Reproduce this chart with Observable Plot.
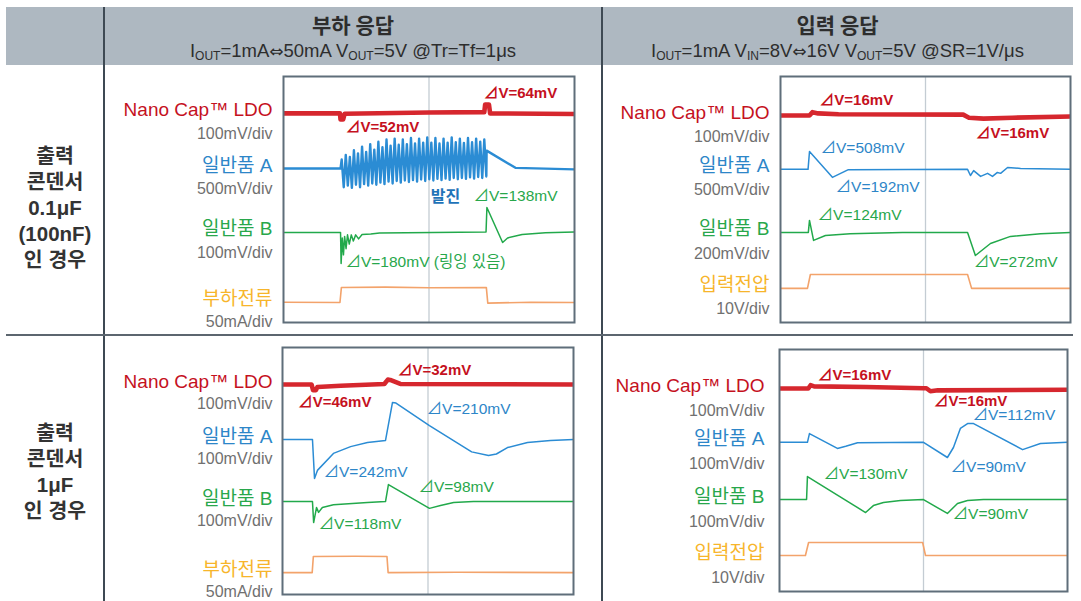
<!DOCTYPE html>
<html><head><meta charset="utf-8">
<script src="https://cdn.jsdelivr.net/npm/d3@7"></script>
<script src="https://cdn.jsdelivr.net/npm/@observablehq/plot@0.6"></script>
<style>
body{margin:0;background:#fff;}
#root{position:relative;width:1081px;height:601px;overflow:hidden;font-family:"Liberation Sans","Noto Sans CJK KR",sans-serif;background:#fff;}
.hdr{position:absolute;left:6px;top:7px;width:1067px;height:58px;background:#aeb8c1;}
.vl{position:absolute;top:7px;width:2px;height:594px;background:#3e4953;}
.hl{position:absolute;left:6px;top:334px;width:1067px;height:2px;background:#5c666f;}
.title{position:absolute;text-align:center;color:#2d2d2d;white-space:nowrap;}
.t1{font-family:"Noto Sans CJK KR",sans-serif;font-weight:bold;font-size:21px;top:9px;line-height:30px;}
.t2{font-family:"Liberation Sans Narrow","Liberation Sans",sans-serif;font-size:18.5px;top:38px;line-height:26px;}
.t2 sub{font-size:12px;vertical-align:-3px;}
.t2 .ar{font-family:"DejaVu Sans",sans-serif;font-size:17px;}
.side{position:absolute;left:6px;width:98px;text-align:center;font-family:"Liberation Sans","Noto Sans CJK KR",sans-serif;font-weight:bold;font-size:20.5px;line-height:26px;color:#333;}
.panel{position:absolute;}
</style></head>
<body><div id="root">
<div class="hdr"></div>
<div class="vl" style="left:103px"></div>
<div class="vl" style="left:601px"></div>
<div class="hl"></div>
<div class="title t1" style="left:104px;width:498px">부하 응답</div>
<div class="title t2" style="left:104px;width:498px">I<sub>OUT</sub>=1mA<span class="ar">⇔</span>50mA V<sub>OUT</sub>=5V @Tr=Tf=1μs</div>
<div class="title t1" style="left:602px;width:471px">입력 응답</div>
<div class="title t2" style="left:602px;width:471px">I<sub>OUT</sub>=1mA V<sub>IN</sub>=8V<span class="ar">⇔</span>16V V<sub>OUT</sub>=5V @SR=1V/μs</div>
<div class="side" style="top:143px">출력<br>콘덴서<br>0.1μF<br>(100nF)<br>인 경우</div>
<div class="side" style="top:420px">출력<br>콘덴서<br>1μF<br>인 경우</div>
<div id="p1" class="panel" style="left:105px;top:65px"></div>
<div id="p2" class="panel" style="left:603px;top:65px"></div>
<div id="p3" class="panel" style="left:105px;top:336px"></div>
<div id="p4" class="panel" style="left:603px;top:336px"></div>
</div>
<script>
// ---- series names and per-division scale labels ----
const namesLoad = ["Nano Cap™ LDO", "일반품 A", "일반품 B", "부하전류"];
const namesLine = ["Nano Cap™ LDO", "일반품 A", "일반품 B", "입력전압"];
const scales1 = ["100mV/div", "500mV/div", "100mV/div", "50mA/div"];
const scales2 = ["100mV/div", "500mV/div", "200mV/div", "10V/div"];
const scales3 = ["100mV/div", "100mV/div", "100mV/div", "50mA/div"];
const scales4 = ["100mV/div", "100mV/div", "100mV/div", "10V/div"];

// ---- traces: [time (div), level (div)] ----
// Panel 1: load response, 0.1uF
const p1Ldo = [[0,6.80],[1.94,6.80],[1.96,6.60],[2.05,6.60],[2.10,6.79],[5,6.83],[6.90,6.84],[6.93,7.09],[7.06,7.09],[7.10,6.80],[10,6.78]];
const p1A = [[0,5.01],[1.96,5.01],[2.00,5.30],[2.07,4.40],[2.14,5.45],[2.21,4.45],[2.28,5.38],[2.35,4.38],[2.42,5.60],[2.49,4.48],[2.56,5.50],[2.63,4.40],[2.70,5.72],[2.77,4.50],[2.84,5.55],[2.91,4.45],[2.98,5.80],[3.05,4.52],[3.12,5.62],[3.19,4.48],[3.26,5.88],[3.33,4.55],[3.40,5.70],[3.47,4.50],[3.54,5.95],[3.61,4.58],[3.68,5.75],[3.75,4.52],[3.82,5.98],[3.89,4.60],[3.96,5.78],[4.03,4.55],[4.10,5.95],[4.17,4.62],[4.24,5.80],[4.31,4.57],[4.38,6.00],[4.45,4.63],[4.52,5.82],[4.59,4.58],[4.66,5.98],[4.73,4.65],[4.80,5.85],[4.87,4.60],[4.94,6.02],[5.01,4.66],[5.08,5.85],[5.15,4.62],[5.22,6.00],[5.29,4.67],[5.36,5.82],[5.43,4.63],[5.50,5.98],[5.57,4.68],[5.64,5.85],[5.71,4.64],[5.78,6.02],[5.85,4.70],[5.92,5.86],[5.99,4.66],[6.06,5.98],[6.13,4.70],[6.20,5.84],[6.27,4.67],[6.34,6.00],[6.41,4.72],[6.48,5.86],[6.55,4.68],[6.62,5.98],[6.69,4.73],[6.76,5.88],[6.83,4.70],[6.90,5.95],[6.97,4.75],[6.98,5.59],[7.97,5.03],[10,4.98]];
const p1B = [[0,2.93],[1.96,2.93],[1.98,1.92],[2.02,2.75],[2.06,2.20],[2.10,2.80],[2.15,2.40],[2.20,2.85],[2.26,2.55],[2.33,2.85],[2.40,2.65],[2.48,2.85],[2.58,2.72],[2.70,2.86],[3.0,2.88],[3.3,2.91],[6.96,2.94],[6.99,3.74],[7.53,2.60],[7.70,2.75],[8.20,2.86],[9.0,2.92],[10,2.94]];
const p1Drive = [[0,0.66],[1.94,0.65],[1.99,1.14],[3.5,1.15],[5,1.13],[6.97,1.14],[7.02,0.63],[8.5,0.66],[10,0.65]];

// Panel 2: line response, 0.1uF
const p2Ldo = [[0,6.73],[1.0,6.73],[1.10,6.84],[1.30,6.80],[2.0,6.77],[6.3,6.76],[6.5,6.66],[7.0,6.63],[8.0,6.66],[10,6.70]];
const p2A = [[0,4.98],[0.95,4.98],[1.00,5.56],[1.79,4.72],[2.34,4.97],[6.45,4.98],[6.55,4.78],[6.66,4.94],[6.90,4.75],[7.14,4.85],[7.31,4.75],[7.48,4.88],[7.59,4.85],[7.83,5.04],[8.28,5.01],[10,4.98]];
const p2B = [[0,2.93],[0.96,2.93],[1.00,3.32],[1.14,2.67],[1.55,2.83],[2.4,2.89],[4.2,2.93],[6.45,2.93],[6.72,2.18],[7.24,2.57],[7.93,2.80],[8.97,2.89],[10,2.93]];
const p2Drive = [[0,1.11],[0.93,1.11],[1.03,1.56],[6.45,1.56],[6.59,1.11],[10,1.11]];

// Panel 3: load response, 1uF
const p3Ldo = [[0,6.80],[1.00,6.80],[1.05,6.62],[1.15,6.62],[1.20,6.72],[2.0,6.76],[3.50,6.82],[3.62,6.96],[3.70,6.95],[4.05,6.82],[10,6.80]];
const p3A = [[0,5.02],[1.03,5.02],[1.10,3.76],[1.20,4.02],[1.75,4.57],[2.34,4.79],[2.92,4.92],[3.54,4.99],[3.78,6.22],[3.90,6.20],[5.05,5.47],[6.50,4.62],[7.08,4.50],[7.35,4.55],[7.73,4.76],[8.42,4.92],[9.21,4.99],[10,5.02]];
const p3B = [[0,3.01],[1.03,3.01],[1.07,2.33],[1.17,2.82],[1.24,2.66],[1.37,2.82],[1.75,2.91],[2.92,2.98],[3.54,3.01],[3.64,3.56],[5.05,2.79],[5.43,2.88],[5.88,2.98],[6.56,3.01],[10,3.01]];
const p3Drive = [[0,0.71],[1.02,0.71],[1.06,1.23],[2.5,1.24],[3.59,1.23],[3.63,0.71],[6,0.72],[10,0.71]];

// Panel 4: line response, 1uF
const p4Ldo = [[0,6.71],[1.00,6.71],[1.08,6.82],[1.20,6.78],[3.0,6.76],[5.0,6.72],[5.10,6.72],[5.24,6.62],[5.50,6.65],[10,6.67]];
const p4A = [[0,4.93],[0.97,4.93],[1.04,5.22],[2.01,4.73],[2.30,4.80],[2.71,4.92],[5.0,4.93],[5.83,4.43],[6.04,4.76],[6.28,5.39],[6.53,5.55],[6.74,5.55],[8.44,4.69],[9.06,4.89],[10,4.93]];
const p4B = [[0,3.04],[0.94,3.04],[0.97,3.80],[2.99,2.61],[3.26,2.84],[3.61,2.94],[4.2,3.01],[5.0,3.04],[5.83,2.58],[6.18,2.91],[6.53,3.01],[7.08,3.04],[10,3.04]];
const p4Drive = [[0,1.19],[0.90,1.19],[1.01,1.62],[4.97,1.62],[5.07,1.19],[10,1.19]];

// ---- annotations: [time, level, text] ----
const p1NotesLdo = [[6.87,7.45,"⊿V=64mV"],[2.13,6.34,"⊿V=52mV"]];
const p1NotesA = [];
const p1NotesB = [[6.53,4.10,"⊿V=138mV"],[2.13,1.98,"⊿V=180mV (링잉 있음)"]];
const p1NotesOsc = [[5.57,4.10,"발진"]];
const p2NotesLdo = [[1.34,7.22,"⊿V=16mV"],[6.72,6.15,"⊿V=16mV"]];
const p2NotesA = [[1.38,5.69,"⊿V=508mV"],[1.90,4.39,"⊿V=192mV"]];
const p2NotesB = [[1.28,3.51,"⊿V=124mV"],[6.66,1.98,"⊿V=272mV"]];
const p3NotesLdo = [[0.52,6.22,"⊿V=46mV"],[3.95,7.26,"⊿V=32mV"]];
const p3NotesA = [[1.41,3.98,"⊿V=242mV"],[4.95,6.02,"⊿V=210mV"]];
const p3NotesB = [[1.24,2.27,"⊿V=118mV"],[4.67,3.47,"⊿V=98mV"]];
const p4NotesLdo = [[1.32,7.14,"⊿V=16mV"],[5.35,6.28,"⊿V=16mV"]];
const p4NotesA = [[6.70,5.82,"⊿V=112mV"],[5.94,4.10,"⊿V=90mV"]];
const p4NotesB = [[1.53,3.87,"⊿V=130mV"],[6.01,2.55,"⊿V=90mV"]];

const gridTime = [5];

// ---- styles ----
const lineColor = ["#d6272e", "#2b8cd4", "#22a94b", "#f3a36b"];
const nameColor = ["#c5111e", "#2d86c8", "#28a74b", "#f7b52b"];
const lineWidth = [4.6, 1.5, 1.5, 1.6];
const scaleColor = "#707070";
const FONT = '"Liberation Sans","Noto Sans CJK KR",sans-serif';

function panel(id, size, traces, names, scales, notes, extra, labelDx, scaleDy, widths) {
  const [w, h, ml, mr, mt, mb] = size;
  const lw = widths || lineWidth;
  const nameRows = traces.map((tr, i) => ({y: tr[0][1], text: names[i], i}));
  const scaleRows = traces.map((tr, i) => ({y: tr[0][1], text: scales[i], i}));
  const marks = [
    Plot.ruleX(gridTime, {stroke: "#c4ccd3", strokeWidth: 1.3}),
    ...traces.map((tr, i) => Plot.line(tr, {x: d => d[0], y: d => d[1], stroke: lineColor[i], strokeWidth: lw[i], strokeLinejoin: "round", strokeLinecap: "butt"})),
    Plot.frame({stroke: "#5f6e7a", strokeWidth: 2}),
    Plot.text(nameRows, {frameAnchor: "left", y: "y", text: "text", textAnchor: "end", dx: labelDx, dy: -3, fill: d => nameColor[d.i], fontSize: 19}),
    Plot.text(scaleRows, {frameAnchor: "left", y: "y", text: "text", textAnchor: "end", dx: labelDx, dy: scaleDy, fill: scaleColor, fontSize: 16, style: "letter-spacing:0.6px"}),
    Plot.text(notes[0], {x: d => d[0], y: d => d[1], text: d => d[2], textAnchor: "start", fill: nameColor[0], fontWeight: "bold", fontSize: 15}),
    Plot.text(notes[1], {x: d => d[0], y: d => d[1], text: d => d[2], textAnchor: "start", fill: nameColor[1], fontSize: 15.5, style: "letter-spacing:0.3px"}),
    Plot.text(notes[2], {x: d => d[0], y: d => d[1], text: d => d[2], textAnchor: "start", fill: nameColor[2], fontSize: 15.5, style: "letter-spacing:0.3px"}),
  ];
  if (extra) marks.push(Plot.text(extra, {x: d => d[0], y: d => d[1], text: d => d[2], textAnchor: "middle", fill: "#1f73b8", fontWeight: "bold", fontSize: 16}));
  const chart = Plot.plot({
    width: w, height: h,
    marginLeft: ml, marginRight: mr, marginTop: mt, marginBottom: mb,
    x: {domain: [0, 10], axis: null},
    y: {domain: [0, 8], axis: null},
    style: {fontFamily: FONT, background: "transparent", overflow: "visible"},
    marks
  });
  document.getElementById(id).appendChild(chart);
}

panel("p1", [497, 270, 178, 28, 11, 13], [p1Ldo, p1A, p1B, p1Drive], namesLoad, scales1, [p1NotesLdo, p1NotesA, p1NotesB], p1NotesOsc, -11, 20, [4.6, 2.4, 1.5, 1.6]);
panel("p2", [478, 270, 177, 11, 11, 13], [p2Ldo, p2A, p2B, p2Drive], namesLine, scales2, [p2NotesLdo, p2NotesA, p2NotesB], null, -11, 21);
panel("p3", [497, 265, 177, 29, 11, 7], [p3Ldo, p3A, p3B, p3Drive], namesLoad, scales3, [p3NotesLdo, p3NotesA, p3NotesB], null, -10, 19);
panel("p4", [478, 265, 176, 14, 13, 10], [p4Ldo, p4A, p4B, p4Drive], namesLine, scales4, [p4NotesLdo, p4NotesA, p4NotesB], null, -15, 22);
</script>
</body></html>
